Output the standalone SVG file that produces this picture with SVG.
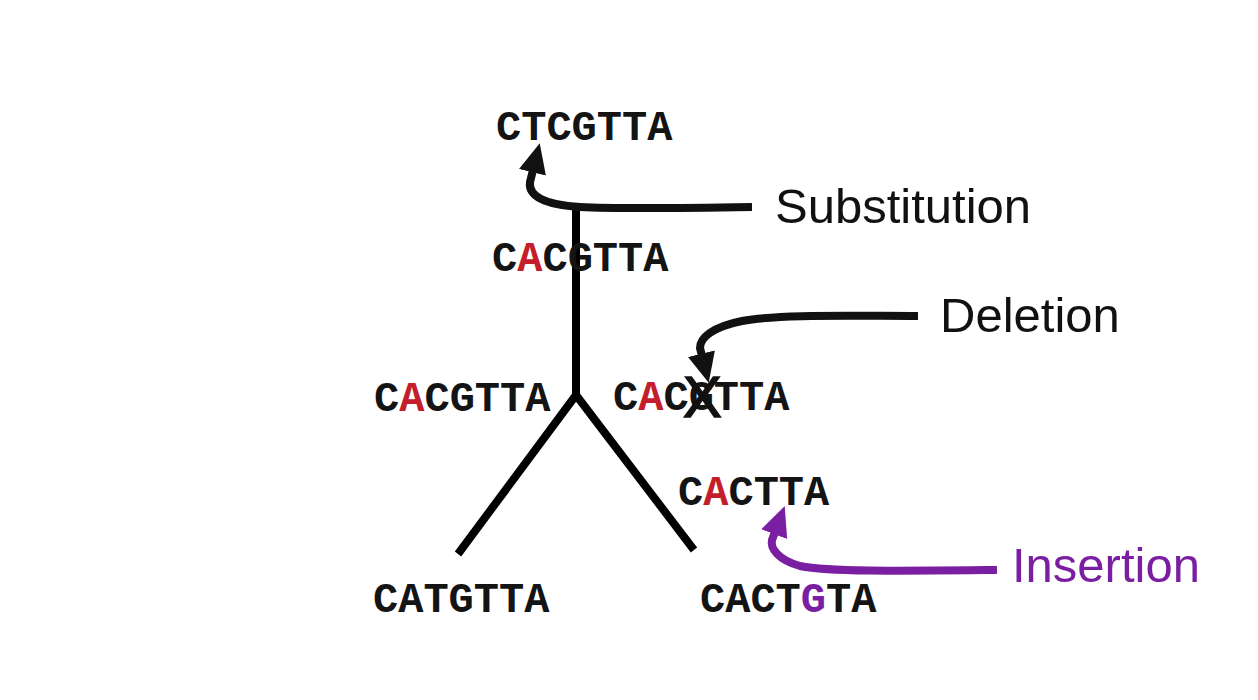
<svg xmlns="http://www.w3.org/2000/svg" width="1258" height="700" viewBox="0 0 1258 700">
  <style>
    .seq { font-family: "Liberation Mono", "Courier New", monospace; font-size: 42px; font-weight: bold; fill: #141414; }
    .red { fill: #c41e2c; }
    .pur { fill: #7b1fa2; }
    .lbl { font-family: "Liberation Sans", Arial, sans-serif; font-size: 49px; fill: #111; }
    .tree { stroke: #000; stroke-width: 8; fill: none; stroke-linecap: butt; stroke-linejoin: miter; }
    .arr { stroke-width: 8; fill: none; stroke-linecap: butt; }
  </style>
  <defs>
    <marker id="headK" markerUnits="userSpaceOnUse" markerWidth="30" markerHeight="30" viewBox="0 0 26 24" refX="2" refY="12" orient="auto">
      <path d="M0,0 L26,12 L0,24 z" fill="#111"/>
    </marker>
    <marker id="headP" markerUnits="userSpaceOnUse" markerWidth="30" markerHeight="30" viewBox="0 0 26 24" refX="2" refY="12" orient="auto">
      <path d="M0,0 L26,12 L0,24 z" fill="#7b1fa2"/>
    </marker>
  </defs>
  <rect width="1258" height="700" fill="#fff"/>

  <g id="tree">
    <path class="tree" d="M576,203 L576,395"/>
    <path class="tree" d="M458,554 L576,395 L694,550"/>
  </g>

  <g id="connectors">
    <path class="arr" stroke="#111" marker-end="url(#headK)" d="M752,207 C690,208 620,209 580,207 C545,205 528,196 530,182 L533,170"/>
    <path class="arr" stroke="#111" marker-end="url(#headK)" d="M918,316 C850,316 780,314 742,321 C712,327 700,338 700,348 L702,356"/>
    <path class="arr" stroke="#7b1fa2" marker-end="url(#headP)" d="M997,570 C900,571 830,572 800,566 C778,560 770,548 772,540 L775,532"/>
  </g>

  <g id="root">
    <text class="seq" x="496" y="140">CTCGTTA</text>
  </g>
  <g id="internal">
    <text class="seq" x="492" y="271">C<tspan class="red">A</tspan>CGTTA</text>
  </g>
  <g id="left-mid">
    <text class="seq" x="374" y="411">C<tspan class="red">A</tspan>CGTTA</text>
  </g>
  <g id="right-mid">
    <text class="seq" x="613" y="410">C<tspan class="red">A</tspan>CGTTA</text>
    <text x="683" y="417" font-family="Liberation Sans, Arial, sans-serif" font-size="58" fill="#111" stroke="#111" stroke-width="1.5">X</text>
  </g>
  <g id="deleted">
    <text class="seq" x="678" y="505">C<tspan class="red">A</tspan>CTTA</text>
  </g>
  <g id="leaf-left">
    <text class="seq" x="373" y="612">CATGTTA</text>
  </g>
  <g id="leaf-right">
    <text class="seq" x="700" y="612">CACT<tspan class="pur">G</tspan>TA</text>
  </g>

  <g id="label-substitution">
    <text class="lbl" x="775" y="223">Substitution</text>
  </g>
  <g id="label-deletion">
    <text class="lbl" x="940" y="332">Deletion</text>
  </g>
  <g id="label-insertion">
    <text class="lbl" x="1012" y="582" style="fill:#7b1fa2">Insertion</text>
  </g>
</svg>
